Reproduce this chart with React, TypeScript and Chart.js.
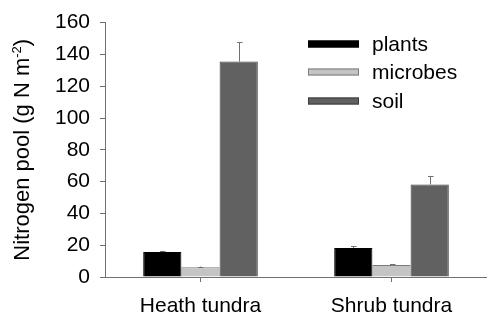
import React, { useEffect, useRef } from "react";
import { Chart, registerables } from "chart.js";
Chart.register(...registerables);

const categories = ["Heath tundra", "Shrub tundra"];
const seriesNames = ["plants", "microbes", "soil"];
const plants = [15.8, 18.3];
const microbes = [6.1, 7.5];
const soil = [135.5, 58.2];
const plantsErr = [0.7, 0.9];
const microbesErr = [0.5, 0.5];
const soilErr = [12, 5.4];
const yMin = 0;
const yMax = 160;
const yStep = 20;

const FONT = "'Liberation Sans', Arial, sans-serif";
const FS = 21;
const TFS = 22;
const fills = ["#000000", "#c4c4c4", "#616161"];
const borders = ["#000000", "#7a7a7a", "#3c3c3c"];

const errorBarPlugin = {
  id: "errorBars",
  afterDatasetsDraw(chart: any) {
    const ctx = chart.ctx;
    const yScale = chart.scales.y;
    const errs = [plantsErr, microbesErr, soilErr];
    ctx.save();
    ctx.strokeStyle = "#707070";
    ctx.lineWidth = 1;
    chart.data.datasets.forEach((ds: any, di: number) => {
      const meta = chart.getDatasetMeta(di);
      meta.data.forEach((bar: any, i: number) => {
        const v = ds.data[i];
        const e = errs[di][i];
        const yTop = yScale.getPixelForValue(v + e);
        const x = Math.round(bar.x) + 0.5;
        ctx.beginPath();
        ctx.moveTo(x, bar.y);
        ctx.lineTo(x, yTop);
        ctx.moveTo(x - 2.5, Math.round(yTop) + 0.5);
        ctx.lineTo(x + 3, Math.round(yTop) + 0.5);
        ctx.stroke();
      });
    });
    ctx.restore();
  },
};

const legendPlugin = {
  id: "customLegend",
  afterDraw(chart: any) {
    const ctx = chart.ctx;
    ctx.save();
    const rows = [44, 72, 101];
    ctx.font = `${FS}px ${FONT}`;
    ctx.textBaseline = "middle";
    seriesNames.forEach((name, i) => {
      const y = rows[i];
      ctx.fillStyle = fills[i];
      ctx.fillRect(308, y - 3.5, 51, 7);
      ctx.strokeStyle = borders[i];
      ctx.lineWidth = 1;
      ctx.strokeRect(308.5, y - 3, 50, 6);
      ctx.fillStyle = "#000";
      ctx.fillText(name, 372, y + 1);
    });
    ctx.restore();
  },
};

const yTitlePlugin = {
  id: "yTitle",
  afterDraw(chart: any) {
    const ctx = chart.ctx;
    const ca = chart.chartArea;
    ctx.save();
    const main = "Nitrogen pool (g N m";
    const sup = "-2";
    const end = ")";
    ctx.font = `${TFS}px ${FONT}`;
    const w1 = ctx.measureText(main).width;
    const w3 = ctx.measureText(end).width;
    ctx.font = `13px ${FONT}`;
    const w2 = ctx.measureText(sup).width;
    const total = w1 + w2 + w3;
    ctx.translate(29, (ca.top + ca.bottom) / 2);
    ctx.rotate(-Math.PI / 2);
    ctx.fillStyle = "#000";
    ctx.textBaseline = "alphabetic";
    ctx.textAlign = "left";
    let x = -total / 2;
    ctx.font = `${TFS}px ${FONT}`;
    ctx.fillText(main, x, 0);
    x += w1;
    ctx.font = `13px ${FONT}`;
    ctx.fillText(sup, x, -8);
    x += w2;
    ctx.font = `${TFS}px ${FONT}`;
    ctx.fillText(end, x, 0);
    ctx.restore();
  },
};

export default function App() {
  const ref = useRef<HTMLCanvasElement>(null);
  useEffect(() => {
    const values = [plants, microbes, soil];
    const chart = new Chart(ref.current as HTMLCanvasElement, {
      type: "bar",
      data: {
        labels: categories,
        datasets: seriesNames.map((name, i) => ({
          label: name,
          data: values[i],
          backgroundColor: fills[i],
          borderColor: borders[i],
          borderWidth: 1,
          categoryPercentage: 0.6,
          barPercentage: 1.0,
        })),
      },
      options: {
        animation: false,
        responsive: false,
        maintainAspectRatio: false,
        layout: { padding: { top: 21, right: 0, left: 0, bottom: 0 } },
        plugins: { legend: { display: false }, tooltip: { enabled: false } },
        scales: {
          x: {
            grid: { display: true, drawOnChartArea: false, drawTicks: true, tickLength: 5, offset: false, color: "#707070" },
            border: { display: true, color: "#707070", width: 1 },
            ticks: { color: "#000", font: { family: FONT, size: FS }, padding: 12 },
            afterFit(scale: any) {
              scale.height = 39;
            },
          },
          y: {
            min: yMin,
            max: yMax,
            ticks: { stepSize: yStep, color: "#000", font: { family: FONT, size: FS }, padding: 10 },
            grid: { display: true, drawOnChartArea: false, drawTicks: true, tickLength: 5, color: "#707070" },
            border: { display: true, color: "#707070", width: 1 },
            afterFit(scale: any) {
              scale.width = 105;
            },
          },
        },
      },
      plugins: [errorBarPlugin, legendPlugin, yTitlePlugin],
    });
    return () => chart.destroy();
  }, []);
  return (
    <div style={{ position: "fixed", left: 0, top: 0, width: 487, height: 316, background: "#fff" }}>
      <canvas ref={ref} width={487} height={316} style={{ width: 487, height: 316 }} />
    </div>
  );
}
